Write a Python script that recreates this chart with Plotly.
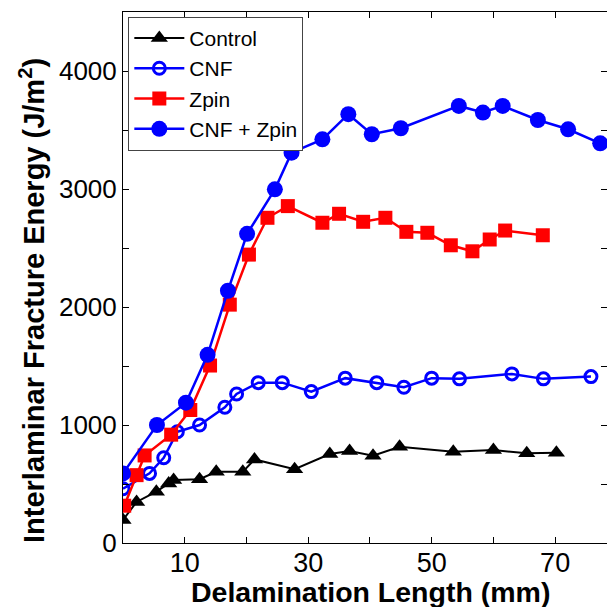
import plotly.graph_objects as go

# Control
ctrl_x = [0, 2.2, 5.4, 7.4, 8.2, 12.4, 15.1, 19.4, 21.3, 27.8, 33.5, 36.7, 40.5, 44.8, 53.5, 60.0, 65.4, 70.2]
ctrl_y = [195, 348, 435, 505, 533, 541, 603, 603, 708, 626, 754, 779, 739, 816, 773, 788, 760, 765]

# CNF
cnf_x = [0, 4.3, 6.6, 8.8, 12.4, 16.5, 18.4, 21.9, 25.8, 30.5, 36.0, 41.1, 45.5, 50.0, 54.5, 63.0, 68.1, 75.8]
cnf_y = [460, 590, 722, 943, 1000, 1150, 1263, 1359, 1359, 1283, 1397, 1359, 1320, 1397, 1391, 1433, 1391, 1410]

# Zpin
zpin_x = [0.2, 2.2, 3.5, 7.8, 10.9, 14.1, 17.3, 20.4, 23.4, 26.7, 32.3, 35.0, 38.9, 42.5, 45.9, 49.3, 53.1, 56.6, 59.4, 61.9, 68.0]
zpin_y = [316, 575, 742, 918, 1127, 1504, 2020, 2444, 2756, 2855, 2714, 2790, 2722, 2756, 2637, 2629, 2523, 2472, 2572, 2648, 2608]

# CNF + Zpin
cz_x = [0, 5.5, 10.2, 13.7, 17.0, 20.1, 24.6, 27.3, 32.3, 36.5, 40.3, 45.0, 54.4, 58.3, 61.5, 67.2, 72.1, 77.3]
cz_y = [590, 1000, 1189, 1595, 2138, 2620, 2997, 3308, 3421, 3634, 3464, 3515, 3704, 3648, 3704, 3585, 3506, 3387]

x_ticks = [10, 20, 30, 40, 50, 60, 70]
x_ticktext = ["10", "", "30", "", "50", "", "70"]
y_ticks = [0, 500, 1000, 1500, 2000, 2500, 3000, 3500, 4000]
y_ticktext = ["0", "", "1000", "", "2000", "", "3000", "", "4000"]

x_title = "Delamination Length (mm)"
y_title = "Interlaminar Fracture Energy (J/m<sup>2</sup>)"

fig = go.Figure()
fig.add_trace(go.Scatter(x=ctrl_x, y=ctrl_y, name="Control", mode="lines+markers",
                         line=dict(color="black", width=2),
                         marker=dict(symbol="triangle-up", size=15, color="black"),
                         legendrank=1))
fig.add_trace(go.Scatter(x=cnf_x, y=cnf_y, name="CNF", mode="lines+markers",
                         line=dict(color="#0000ff", width=2.5),
                         marker=dict(symbol="circle-open", size=12, color="#0000ff",
                                     line=dict(width=3, color="#0000ff")),
                         legendrank=2))
fig.add_trace(go.Scatter(x=zpin_x, y=zpin_y, name="Zpin", mode="lines+markers",
                         line=dict(color="#ff0000", width=2.5),
                         marker=dict(symbol="square", size=14, color="#ff0000"),
                         legendrank=3))
fig.add_trace(go.Scatter(x=cz_x, y=cz_y, name="CNF + Zpin", mode="lines+markers",
                         line=dict(color="#0000ff", width=2.5),
                         marker=dict(symbol="circle", size=16, color="#0000ff"),
                         legendrank=4))

axis_common = dict(showline=True, linecolor="black", linewidth=1, mirror="ticks",
                   ticks="inside", ticklen=6, tickcolor="black", showgrid=False,
                   zeroline=False, automargin=False)

fig.update_layout(
    width=607, height=607,
    margin=dict(l=123, r=0, t=12, b=64),
    paper_bgcolor="white", plot_bgcolor="white",
    font=dict(family="Liberation Sans, Arial, sans-serif", color="black", size=26),
    xaxis=dict(range=[0, 78.4], tickvals=x_ticks, ticktext=x_ticktext,
               ticklabelstandoff=-4, tickfont=dict(size=27), **axis_common),
    yaxis=dict(range=[0, 4500], tickvals=y_ticks, ticktext=y_ticktext,
               **axis_common),
    showlegend=True,
    legend=dict(x=0.011, y=0.991, xanchor="left", yanchor="top",
                bgcolor="white", bordercolor="#444444", borderwidth=1,
                font=dict(size=21), itemwidth=50, tracegroupgap=0),
    annotations=[
        dict(text="<b>" + x_title + "</b>", xref="paper", yref="paper",
             x=(370 - 123) / 484, y=-(592 - 543) / 531, xanchor="center", yanchor="middle",
             showarrow=False, font=dict(size=28.5)),
        dict(text="<b>" + y_title + "</b>", xref="paper", yref="paper",
             x=-(123 - 32) / 484, y=(543 - 301) / 531, xanchor="center", yanchor="middle",
             textangle=-90, showarrow=False, font=dict(size=29)),
    ],
)

fig.write_html("out.html", config={"displayModeBar": False},
               post_script="document.body.style.margin='0';document.body.style.overflow='hidden';")
